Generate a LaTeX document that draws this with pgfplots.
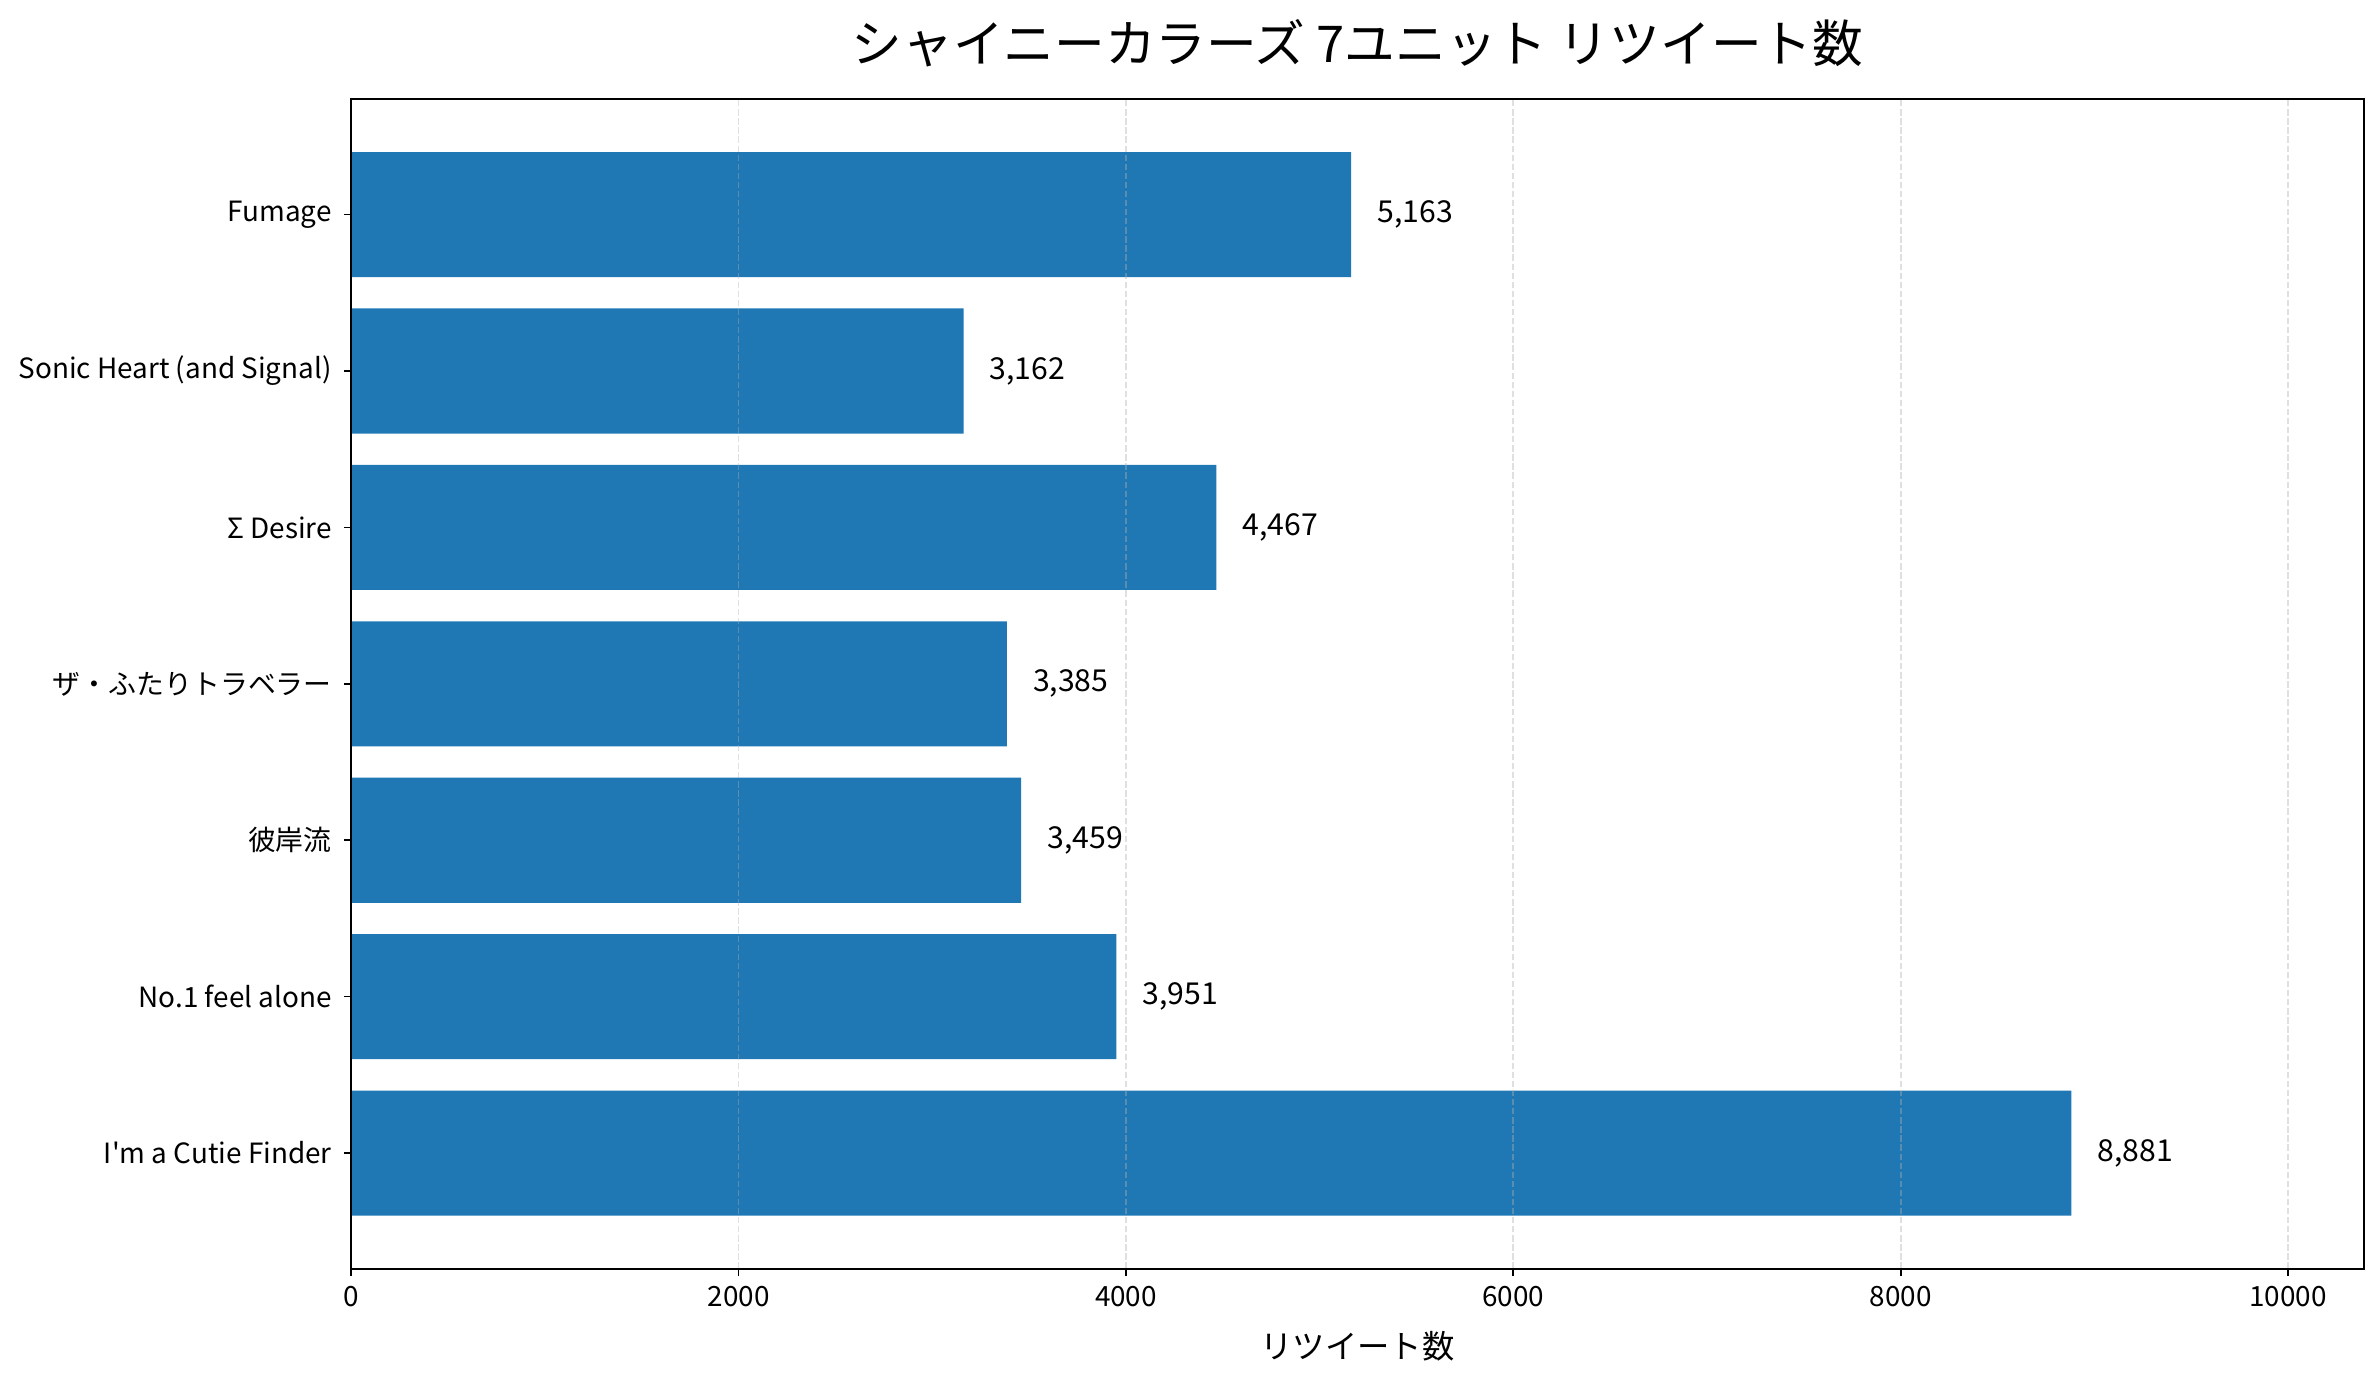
\documentclass[border=0pt]{standalone}
\usepackage{fontspec}
\setmainfont{Noto Sans CJK JP}[Ligatures=TeXOff]
\usepackage{pgfplots}
\pgfplotsset{compat=1.18}
\definecolor{mplblue}{HTML}{1F77B4}
\begin{document}
\begin{tikzpicture}
\begin{axis}[
  scale only axis,
  width=953pt, height=554pt,
  xbar,
  bar width=0.8,
  xmin=0, xmax=10391,
  ymin=-0.74, ymax=6.74,
  ytick={0,1,2,3,4,5,6},
  yticklabels={I'm a Cutie Finder, No.1 feel alone, 彼岸流, ザ・ふたりトラベラー, Σ Desire, Sonic Heart (and Signal), Fumage},
  xtick={0,2000,4000,6000,8000,10000},
  scaled x ticks=false,
  /pgf/number format/assume math mode=true,
  /pgf/number format/1000 sep={},
  tick align=outside,
  tick pos=left,
  major tick length=3.5pt,
  every tick/.style={black, line width=0.8pt},
  axis line style={line width=0.8pt},
  tick label style={font=\fontsize{13.2}{15}\selectfont},
  yticklabel style={xshift=-2.2pt},
  xticklabel style={yshift=-1pt},
  xmajorgrids,
  grid style={gray!60, line width=0.8pt, opacity=0.4, dash pattern=on 3pt off 1.3pt},
  axis on top,
  title={シャイニーカラーズ 7ユニット リツイート数},
  title style={font=\fontsize{24}{28}\selectfont, at={(axis description cs:0.5,1)}, anchor=center, yshift=20.5pt},
  xlabel={リツイート数},
  xlabel style={font=\fontsize{15.3}{18}\selectfont, at={(axis description cs:0.5,0)}, anchor=center, yshift=-36.7pt},
  nodes near coords={\pgfmathprintnumber[1000 sep={,}, assume math mode=true]{\pgfplotspointmeta}},
  nodes near coords style={anchor=west, inner sep=0pt, xshift=12.2pt, font=\fontsize{14.3}{17}\selectfont, black},
]
\addplot[fill=mplblue, draw=none] coordinates {
  (8881,0) (3951,1) (3459,2) (3385,3) (4467,4) (3162,5) (5163,6)
};
\end{axis}
\path (current axis.south west) ++(-166.3pt,-54.4pt) coordinate (bl);
\path (current axis.north east) ++(7.2pt,46.8pt) coordinate (tr);
\path[use as bounding box] (bl) rectangle (tr);
\end{tikzpicture}
\end{document}
